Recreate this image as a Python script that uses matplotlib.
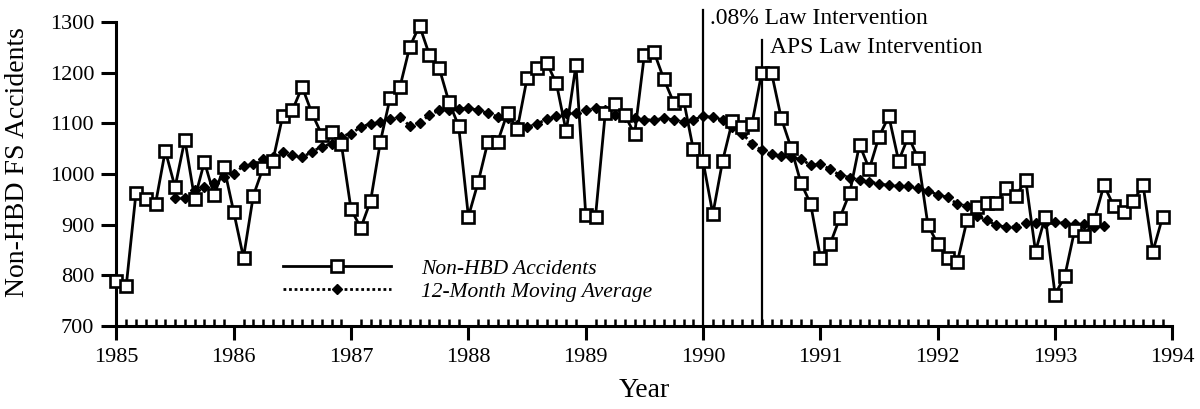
import numpy as np
import matplotlib
matplotlib.use('Agg')
import matplotlib.pyplot as plt
from matplotlib.ticker import MultipleLocator

plt.rcParams['font.family'] = ['Liberation Serif', 'DejaVu Serif']

# Monthly non-HBD fatal/serious accidents, Jan 1985 - Dec 1993
accidents = [
    789, 778, 962, 951, 941, 1046, 974, 1068, 951, 1024, 958, 1014,
    925, 835, 957, 1012, 1026, 1114, 1126, 1172, 1120, 1078, 1083, 1060,
    930, 894, 947, 1064, 1151, 1172, 1251, 1293, 1236, 1210, 1143, 1095,
    916, 984, 1064, 1064, 1121, 1089, 1189, 1209, 1220, 1179, 1084, 1215,
    920, 916, 1121, 1138, 1116, 1079, 1236, 1240, 1187, 1141, 1147, 1049,
    1025, 921, 1026, 1105, 1093, 1099, 1200, 1200, 1110, 1052, 983, 941,
    835, 862, 914, 963, 1058, 1010, 1074, 1114, 1026, 1074, 1031, 899,
    862, 835, 826, 909, 935, 942, 942, 973, 957, 988, 847, 916,
    762, 799, 889, 878, 909, 978, 937, 926, 947, 978, 847, 915,
]

# 12-month centred moving average, Jul 1985 - Jun 1993
moving_avg = [
    953, 952, 968, 975, 982, 995,
    1001, 1016, 1020, 1030, 1034, 1044, 1037, 1033, 1044, 1054, 1060, 1074,
    1080, 1093, 1099, 1103, 1108, 1113, 1095, 1101, 1116, 1126, 1126, 1128,
    1130, 1126, 1120, 1113, 1110, 1097, 1092, 1099, 1108, 1114, 1120, 1120,
    1126, 1130, 1126, 1116, 1113, 1110, 1107, 1107, 1110, 1107, 1103, 1107,
    1114, 1112, 1107, 1093, 1080, 1060, 1047, 1039, 1035, 1034, 1029, 1018,
    1020, 1009, 998, 993, 989, 985, 980, 978, 976, 976, 972, 967,
    959, 954, 941, 937, 917, 909, 899, 895, 896, 904, 903, 904,
    906, 903, 901, 901, 896, 897,
]
ma_start = 6  # first month with a full window

years = list(range(1985, 1995))
interventions = [1990.0, 1990.5]
intervention_labels = ['.08% Law Intervention', 'APS Law Intervention']

t = 1985 + np.arange(len(accidents)) / 12.0
t_ma = 1985 + (ma_start + np.arange(len(moving_avg))) / 12.0

fig = plt.figure(figsize=(12, 4.09), dpi=100)
ax = fig.add_axes([0.097, 0.203, 0.880, 0.743])

ax.plot(t, accidents, color='black', linewidth=2.0, marker='s', markersize=9,
        markerfacecolor='white', markeredgecolor='black', markeredgewidth=1.9,
        label='Non-HBD Accidents', clip_on=False, zorder=3)
ax.plot(t_ma, moving_avg, color='black', linewidth=2.0, linestyle=(0, (1, 1)),
        marker='D', markersize=5.5, markerfacecolor='black', markeredgecolor='black',
        label='12-Month Moving Average', clip_on=False, zorder=2)

# intervention lines and labels
ax.plot([interventions[0]] * 2, [700, 1324], color='black', linewidth=1.6, clip_on=False)
ax.plot([interventions[1]] * 2, [700, 1264], color='black', linewidth=1.6, clip_on=False)
ax.text(1990.06, 1308, intervention_labels[0], fontsize=17, va='center', ha='left')
ax.text(1990.57, 1250, intervention_labels[1], fontsize=17, va='center', ha='left')

ax.set_xlim(1985, 1994)
ax.set_ylim(700, 1300)
ax.set_xticks(years)
ax.set_yticks(range(700, 1301, 100))
ax.xaxis.set_minor_locator(MultipleLocator(1 / 12))

ax.spines['top'].set_visible(False)
ax.spines['right'].set_visible(False)
ax.spines['left'].set_linewidth(2.2)
ax.spines['bottom'].set_linewidth(2.2)

ax.tick_params(axis='x', which='major', direction='out', length=10, width=2.2,
               labelsize=16, pad=6)
ax.tick_params(axis='x', which='minor', direction='in', length=5, width=1.8)
ax.tick_params(axis='y', which='major', direction='out', length=11, width=2.2,
               labelsize=16, pad=5)

ax.set_xlabel('Year', fontsize=20, labelpad=8)
ax.set_ylabel('Non-HBD FS Accidents', fontsize=20)
ax.yaxis.set_label_coords(-0.082, 0.54)

leg = ax.legend(loc='upper left', bbox_to_anchor=(0.158, 0.222), frameon=False,
                handlelength=5.0, handletextpad=1.4, labelspacing=0.15,
                borderpad=0, borderaxespad=0, fontsize=15.5)
for txt in leg.get_texts():
    txt.set_fontstyle('italic')

plt.savefig('out.png', dpi=100)
